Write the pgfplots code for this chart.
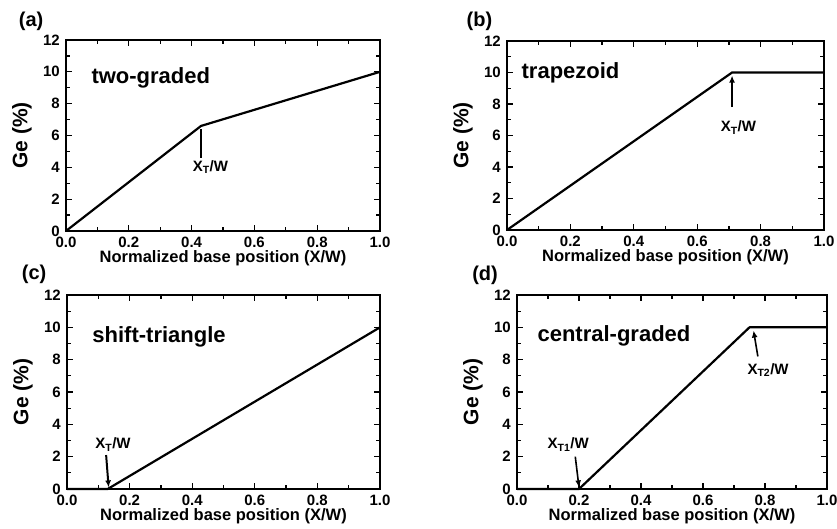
\documentclass[border=0pt]{standalone}
\usepackage{fontspec}
\setmainfont{Liberation Sans}
\usepackage{pgfplots}
\pgfplotsset{compat=1.18}
\usetikzlibrary{arrows.meta}

\pgfplotsset{
  geaxis/.style={
    scale only axis,
    xmin=0, xmax=1, ymin=0, ymax=12,
    xtick={0,0.2,...,1.0}, ytick={0,2,...,12},
    minor x tick num=1, minor y tick num=1,
    tick align=inside,
    major tick length=6pt, minor tick length=4pt,
    axis line style={line width=2pt},
    every tick/.style={line width=1.3pt, black},
    /pgf/number format/assume math mode=true,
    /pgf/number format/.cd, fixed, fixed zerofill, precision=1, /pgfplots/.cd,
    xticklabel style={font=\fontsize{15}{15}\selectfont\bfseries, inner sep=0pt, yshift=-6pt},
    yticklabel style={font=\fontsize{15}{15}\selectfont\bfseries, inner sep=0pt, xshift=-6pt,
      /pgf/number format/precision=0, /pgf/number format/fixed zerofill=false},
    xlabel={Normalized base position (X/W)},
    ylabel={Ge (\%)},
    xlabel style={font=\fontsize{16.5}{16.5}\selectfont\bfseries, inner sep=0pt,
      at={(axis description cs:0.5,0)}, anchor=center, yshift=-27.5pt},
    ylabel style={font=\fontsize{21}{21}\selectfont\bfseries, inner sep=0pt,
      at={(axis description cs:0,0.5)}, anchor=center, yshift=44pt},
    clip=false,
  },
}
\tikzset{
  geline/.style={black, line width=2.2pt, line join=round},
  lbl/.style={font=\fontsize{22}{22}\selectfont\bfseries, anchor=west},
  xt/.style={font=\fontsize{15}{15}\selectfont\bfseries},
  pl/.style={font=\fontsize{20}{20}\selectfont\bfseries},
  arr/.style={line width=1.6pt, -{Latex[length=7pt,width=6pt]}},
}

\begin{document}
\begin{tikzpicture}
\useasboundingbox (0,0) rectangle (837pt,529pt);

% (a) two-graded
\begin{axis}[geaxis, at={(66pt,298pt)}, anchor=south west, width=314pt, height=191pt]
\addplot[geline] coordinates {(0,0) (0.43,6.6) (1.0,10)};
\draw[line width=1.6pt] (axis cs:0.43,4.6) -- (axis cs:0.43,6.4);
\node[xt] at (axis cs:0.46,4.0) {X\textsubscript{T}/W};
\node[lbl] at (axis cs:0.07,9.6) {two-graded};
\node[pl] at (axis description cs:-0.111,1.097) {(a)};
\end{axis}

% (b) trapezoid
\begin{axis}[geaxis, at={(507pt,299pt)}, anchor=south west, width=317pt, height=189pt]
\addplot[geline] coordinates {(0,0) (0.71,10) (1.0,10)};
\draw[arr] (axis cs:0.71,7.8) -- (axis cs:0.71,9.8);
\node[xt] at (axis cs:0.73,6.5) {X\textsubscript{T}/W};
\node[lbl] at (axis cs:0.035,10.0) {trapezoid};
\node[pl] at (axis description cs:-0.087,1.106) {(b)};
\end{axis}

% (c) shift-triangle
\begin{axis}[geaxis, at={(67pt,40pt)}, anchor=south west, width=313pt, height=194pt]
\addplot[geline] coordinates {(0,0) (0.13,0) (1.0,10)};
\draw[arr, line width=2pt] (axis cs:0.125,2.1) -- (axis cs:0.133,0.1);
\node[xt] at (axis cs:0.147,2.75) {X\textsubscript{T}/W};
\node[lbl] at (axis cs:0.07,9.4) {shift-triangle};
\node[pl] at (axis description cs:-0.105,1.106) {(c)};
\end{axis}

% (d) central-graded
\begin{axis}[geaxis, at={(517pt,40pt)}, anchor=south west, width=310pt, height=194pt]
\addplot[geline] coordinates {(0,0) (0.2,0) (0.75,10) (1.0,10)};
\draw[arr] (axis cs:0.188,2.0) -- (axis cs:0.2,0.1);
\node[xt] at (axis cs:0.165,2.75) {X\textsubscript{T1}/W};
\draw[arr] (axis cs:0.777,8.2) -- (axis cs:0.763,9.8);
\node[xt] at (axis cs:0.81,7.35) {X\textsubscript{T2}/W};
\node[lbl] at (axis cs:0.055,9.45) {central-graded};
\node[pl] at (axis description cs:-0.103,1.103) {(d)};
\end{axis}
\end{tikzpicture}
\end{document}
